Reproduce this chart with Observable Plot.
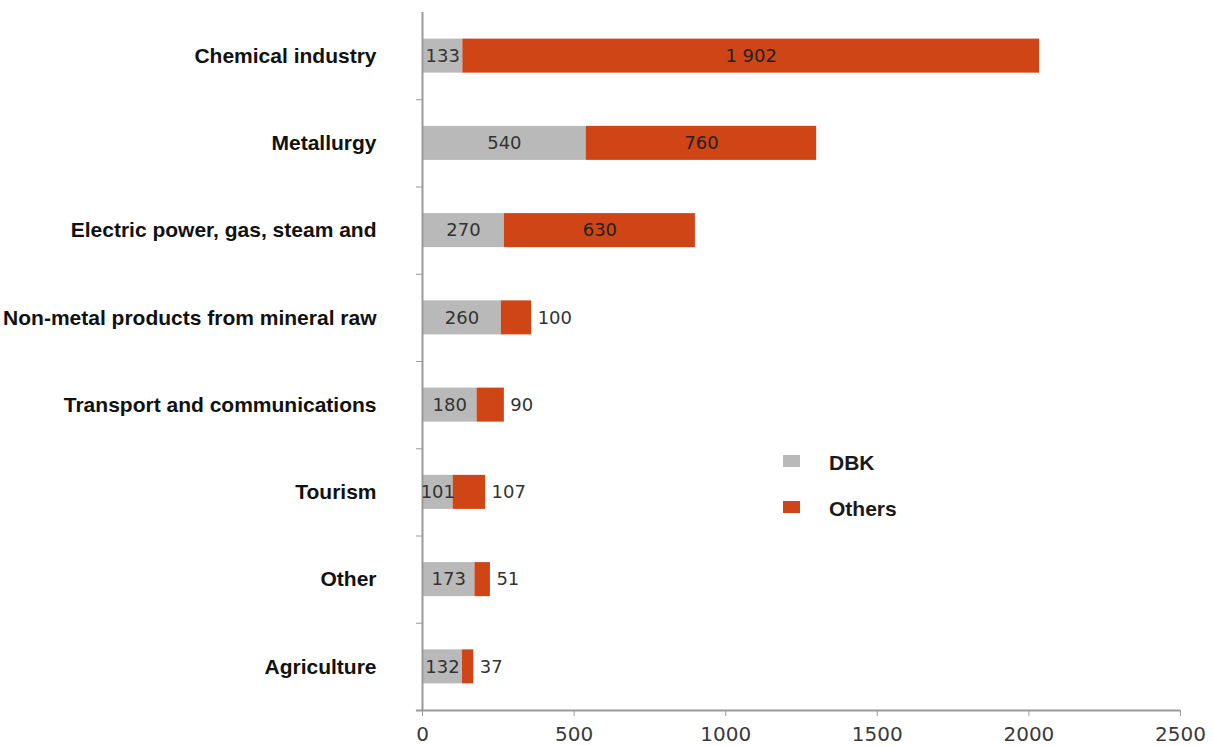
<!DOCTYPE html>
<html>
<head>
<meta charset="utf-8">
<script src="https://cdn.jsdelivr.net/npm/d3@7"></script>
<script src="https://cdn.jsdelivr.net/npm/@observablehq/plot@0.6"></script>
<style>
  body { margin: 0; background: #fff; }
  #wrap { position: relative; width: 1213px; height: 746px; }
  .legend { position: absolute; left: 783px; top: 455px; font-family: "Liberation Sans", Arial, sans-serif; font-weight: bold; font-size: 21px; color: #1a1a1a; }
  .legend .item { position: relative; height: 46px; }
  .legend .sw { position: absolute; left: 0; width: 17px; height: 12px; }
  .legend .lb { position: absolute; left: 46px; top: -4px; line-height: 24px; }
</style>
</head>
<body>
<div id="wrap"></div>
<script>
const categories = ["Chemical industry", "Metallurgy", "Electric power, gas, steam and", "Non-metal products from mineral raw", "Transport and communications", "Tourism", "Other", "Agriculture"];
const dbk = [133, 540, 270, 260, 180, 101, 173, 132];
const others = [1902, 760, 630, 100, 90, 107, 51, 37];
const seriesNames = ["DBK", "Others"];
const xTicks = [0, 500, 1000, 1500, 2000, 2500];

const colors = {DBK: "#b9b9b9", Others: "#cf4515"};
const half = 0.195;
const rows = categories.map((c, i) => ({c, i, dbk: dbk[i], others: others[i]}));
const fmt = v => v >= 1000 ? d3.format(",")(v).replace(",", " ") : String(v);
const boundaries = d3.range(0.5, categories.length - 1, 1);

const chart = Plot.plot({
  width: 1213,
  height: 746,
  marginLeft: 422,
  marginRight: 33,
  marginTop: 12,
  marginBottom: 36,
  x: {domain: [0, 2500]},
  y: {domain: [-0.5, categories.length - 0.5], reverse: true},
  marks: [
    Plot.rectX(rows, {x1: 0, x2: d => d.dbk, y1: d => d.i - half, y2: d => d.i + half, fill: colors.DBK}),
    Plot.rectX(rows, {x1: d => d.dbk, x2: d => d.dbk + d.others, y1: d => d.i - half, y2: d => d.i + half, fill: colors.Others}),
    Plot.ruleX([0], {y1: -0.5, y2: categories.length - 0.5, stroke: "#9a9a9a", strokeWidth: 2}),
    Plot.ruleY([categories.length - 0.5], {x1: -20, x2: 2500, stroke: "#9a9a9a", strokeWidth: 2}),
    Plot.axisX({ticks: xTicks, tickSize: 6, tickPadding: 10, tickFormat: d => String(d), label: null,
      fontFamily: "DejaVu Sans", fontSize: 20, fill: "#3a3a3a", stroke: "#9a9a9a"}),
    Plot.axisY({ticks: boundaries, tickSize: 6, tickFormat: () => "", label: null, stroke: "#9a9a9a"}),
    Plot.axisY({ticks: d3.range(categories.length), tickSize: 0, tickPadding: 46, tickFormat: i => categories[i], label: null,
      fontFamily: "Liberation Sans", fontSize: 21, fontWeight: "bold", fill: "#111"}),
    Plot.text(rows, {x: d => d.dbk / 2, y: "i", text: d => fmt(d.dbk),
      fontFamily: "DejaVu Sans", fontSize: 18, fill: "#333"}),
    Plot.text(rows.filter(d => d.others >= 300), {x: d => d.dbk + d.others / 2, y: "i", text: d => fmt(d.others),
      fontFamily: "DejaVu Sans", fontSize: 18, fill: "#222"}),
    Plot.text(rows.filter(d => d.others < 300), {x: d => d.dbk + d.others, y: "i", text: d => fmt(d.others), textAnchor: "start", dx: 6,
      fontFamily: "DejaVu Sans", fontSize: 18, fill: "#333"})
  ]
});
const wrap = document.getElementById("wrap");
wrap.appendChild(chart);

const legend = document.createElement("div");
legend.className = "legend";
seriesNames.forEach(name => {
  const item = document.createElement("div");
  item.className = "item";
  const sw = document.createElement("span");
  sw.className = "sw";
  sw.style.background = colors[name];
  const lb = document.createElement("span");
  lb.className = "lb";
  lb.textContent = name;
  item.appendChild(sw);
  item.appendChild(lb);
  legend.appendChild(item);
});
wrap.appendChild(legend);
</script>
</body>
</html>
